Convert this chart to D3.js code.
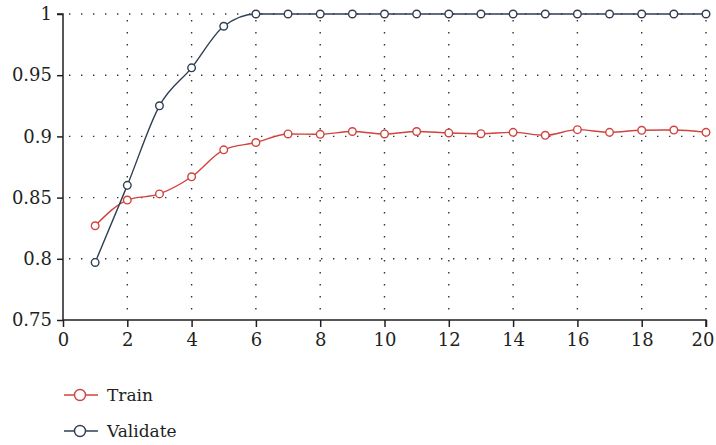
<!DOCTYPE html>
<html>
<head>
<meta charset="utf-8">
<script src="https://cdn.jsdelivr.net/npm/d3@7/dist/d3.min.js"></script>
<style>
  body { margin: 0; background: #fff; }
  svg { display: block; }
</style>
</head>
<body>
<svg id="chart" width="716" height="445"></svg>
<script>
const epochs = [1,2,3,4,5,6,7,8,9,10,11,12,13,14,15,16,17,18,19,20];
const trainValues = [0.827,0.848,0.853,0.867,0.889,0.895,0.902,0.9017,0.904,0.902,0.904,0.9028,0.9022,0.9033,0.9009,0.9055,0.9033,0.905,0.9052,0.9033];
const validateValues = [0.797,0.860,0.925,0.956,0.990,1,1,1,1,1,1,1,1,1,1,1,1,1,1,1];
const xTicks = [0,2,4,6,8,10,12,14,16,18,20];
const yTicks = [0.75,0.8,0.85,0.9,0.95,1];
const yTickLabels = ["0.75","0.8","0.85","0.9","0.95","1"];
const seriesNames = ["Train","Validate"];
const seriesColors = ["#d0433e","#2f3f52"];

const FONT = "'DejaVu Serif', serif";
const svg = d3.select("#chart");
const x = d3.scaleLinear().domain([0,20]).range([63,706]);
const y = d3.scaleLinear().domain([0.75,1]).range([320,14]);

// grid
const grid = svg.append("g").attr("stroke","#333").attr("stroke-width",1.4)
  .attr("stroke-dasharray","1.4,10.6").attr("fill","none");
grid.selectAll("line.h").data(yTicks.slice(1)).enter().append("line")
  .attr("x1", x(0)+6).attr("x2", x(20)).attr("y1", d=>y(d)).attr("y2", d=>y(d));
grid.selectAll("line.v").data(xTicks.slice(1)).enter().append("line")
  .attr("x1", d=>x(d)).attr("x2", d=>x(d)).attr("y1", y(1)+6).attr("y2", y(0.75));

// axes
const xAxis = d3.axisBottom(x).tickValues(xTicks).tickSize(7).tickPadding(6).tickFormat(d3.format("d"));
const yAxis = d3.axisLeft(y).tickValues(yTicks).tickSize(6).tickPadding(5).tickFormat((d,i)=>yTickLabels[i]);
const gx = svg.append("g").attr("transform",`translate(0,${y(0.75)})`).call(xAxis);
const gy = svg.append("g").attr("transform",`translate(${x(0)},0)`).call(yAxis);
[gx,gy].forEach(g=>{
  g.attr("font-family", FONT).attr("font-size", 18);
  g.select(".domain").attr("stroke","#231f20").attr("stroke-width",1.5);
  g.selectAll(".tick line").attr("stroke","#231f20").attr("stroke-width",1.5);
  g.selectAll(".tick text").attr("fill","#231f20");
});
gx.selectAll(".tick text").filter(d => d === 20).attr("text-anchor","end").attr("dx", 8);
gx.select(".domain").attr("d", `M${x(0)},0H${x(20)}V7`);
gy.select(".domain").attr("d", `M-6,${y(1)}H0V${y(0.75)}`);

// series
const seriesData = [trainValues, validateValues];
const line = d3.line().x((d,i)=>x(epochs[i])).y(d=>y(d)).curve(d3.curveMonotoneX);
seriesData.forEach((vals,si)=>{
  const g = svg.append("g");
  g.append("path").datum(vals).attr("d", line).attr("fill","none")
    .attr("stroke", seriesColors[si]).attr("stroke-width",1.4);
  g.selectAll("circle").data(vals).enter().append("circle")
    .attr("cx",(d,i)=>x(epochs[i])).attr("cy",d=>y(d)).attr("r",3.8)
    .attr("fill","#fff").attr("stroke",seriesColors[si]).attr("stroke-width",1.4);
});

// legend
const legend = svg.append("g").attr("font-family", FONT).attr("font-size", 17);
seriesNames.forEach((name,i)=>{
  const cy = 395 + i*36;
  legend.append("line").attr("x1",64).attr("x2",98).attr("y1",cy).attr("y2",cy)
    .attr("stroke",seriesColors[i]).attr("stroke-width",1.4);
  legend.append("circle").attr("cx",80).attr("cy",cy).attr("r",5.5)
    .attr("fill","#fff").attr("stroke",seriesColors[i]).attr("stroke-width",1.4);
  legend.append("text").attr("x",107).attr("y",cy+6).attr("fill","#231f20").text(name);
});
</script>
</body>
</html>
